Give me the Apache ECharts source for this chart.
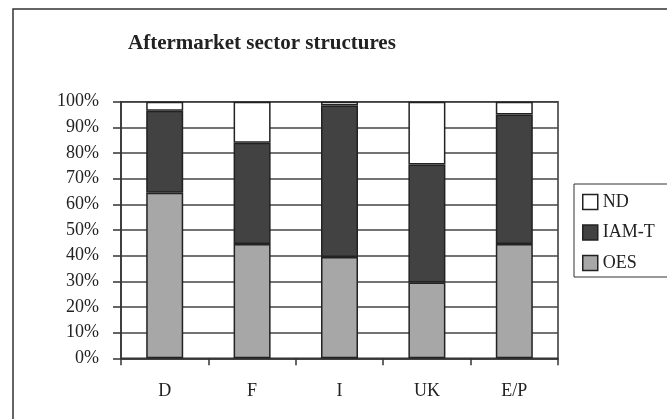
<!DOCTYPE html>
<html>
<head>
<meta charset="utf-8">
<script src="https://cdn.jsdelivr.net/npm/echarts@6/dist/echarts.min.js"></script>
<style>
html,body{margin:0;padding:0;background:#fff;}
#chart{width:667px;height:419px;}
</style>
</head>
<body>
<div id="chart"></div>
<script>
var categories = ['D', 'F', 'I', 'UK', 'E/P'];
var oesValues = [64.5, 44.5, 39.5, 29.5, 44.5];
var iamtValues = [32, 39.5, 59, 46, 50.5];
var ndValues = [3.5, 16, 1.5, 24.5, 5];
var titleText = 'Aftermarket sector structures';

var FONT = '"Liberation Serif", "Times New Roman", serif';
var chart = echarts.init(document.getElementById('chart'), null, {renderer: 'canvas'});
var barStyle = function (c) {
  return {color: c, borderColor: '#222', borderWidth: 1.5};
};
chart.setOption({
  animation: false,
  backgroundColor: '#fff',
  title: {
    text: titleText,
    left: 128,
    top: 33,
    padding: 0,
    textStyle: {fontFamily: FONT, fontSize: 21, fontWeight: 'bold', color: '#222'}
  },
  graphic: [{
    type: 'rect',
    shape: {x: 13, y: 9, width: 720, height: 500},
    style: {fill: 'none', stroke: '#333', lineWidth: 1.5},
    silent: true
  }],
  legend: {
    orient: 'vertical',
    left: 574,
    top: 184,
    padding: [9, 60, 5, 8],
    icon: 'rect',
    itemWidth: 15,
    itemHeight: 15,
    itemGap: 12.5,
    borderColor: '#333',
    borderWidth: 1,
    data: ['ND', 'IAM-T', 'OES'],
    textStyle: {fontFamily: FONT, fontSize: 18, color: '#222', lineHeight: 18, padding: [0, 0, 0, 0]},
    itemStyle: {borderColor: '#222', borderWidth: 1.5}
  },
  grid: {
    left: 121, right: 109, top: 101.7, bottom: 60.7,
    show: true, borderColor: '#333', borderWidth: 1.5, backgroundColor: 'transparent'
  },
  xAxis: {
    type: 'category',
    data: categories,
    boundaryGap: true,
    axisLine: {lineStyle: {color: '#333', width: 1.5}},
    axisTick: {show: true, inside: false, length: 7, alignWithLabel: false, lineStyle: {color: '#333', width: 1.5}},
    axisLabel: {fontFamily: FONT, fontSize: 18, color: '#222', margin: 24},
    splitLine: {show: false}
  },
  yAxis: {
    type: 'value',
    min: 0, max: 100, interval: 10,
    axisLine: {show: true, lineStyle: {color: '#333', width: 1.5}},
    axisTick: {show: true, inside: false, length: 8, lineStyle: {color: '#333', width: 1.5}},
    axisLabel: {fontFamily: FONT, fontSize: 18, color: '#222', margin: 22, formatter: '{value}%'},
    splitLine: {show: true, lineStyle: {color: '#444', width: 1.5}}
  },
  series: [
    {name: 'OES', type: 'bar', stack: 'a', barWidth: 37, data: oesValues, itemStyle: barStyle('#a7a7a7')},
    {name: 'IAM-T', type: 'bar', stack: 'a', barWidth: 37, data: iamtValues, itemStyle: barStyle('#424242')},
    {name: 'ND', type: 'bar', stack: 'a', barWidth: 37, data: ndValues, itemStyle: barStyle('#ffffff')}
  ]
});
</script>
</body>
</html>
